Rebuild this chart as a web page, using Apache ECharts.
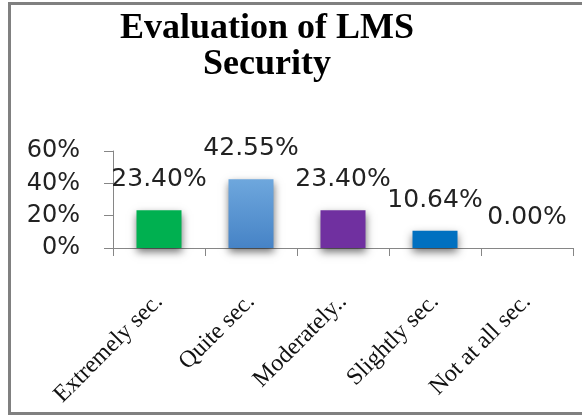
<!DOCTYPE html>
<html>
<head>
<meta charset="utf-8">
<script src="https://cdn.jsdelivr.net/npm/echarts@6/dist/echarts.min.js"></script>
<style>
html,body{margin:0;padding:0;background:#fff;overflow:hidden;}
#frame{position:absolute;left:8px;top:2px;width:700px;height:413px;border-top:3px solid #808080;border-left:3px solid #808080;border-bottom:3px solid #808080;box-sizing:border-box;}
#c{position:absolute;left:0;top:0;width:582px;height:417px;}
</style>
</head>
<body>
<div id="frame"></div>
<div id="c"></div>
<script>
var titleText = 'Evaluation of LMS\nSecurity';
var categories = ['Extremely sec.', 'Quite sec.', 'Moderately..', 'Slightly sec.', 'Not at all sec.'];
var values = [0.2340, 0.4255, 0.2340, 0.1064, 0.0000];
var labels = ['23.40%', '42.55%', '23.40%', '10.64%', '0.00%'];
var yTicks = [0, 0.2, 0.4, 0.6];
var barColors = [
  '#00B050',
  {type:'linear', x:0, y:0, x2:0, y2:1, colorStops:[{offset:0,color:'#6EA7DD'},{offset:1,color:'#4683C6'}]},
  '#7030A0',
  '#0070C0',
  '#4F81BD'
];

var chart = echarts.init(document.getElementById('c'), null, {renderer:'canvas'});
chart.setOption({
  backgroundColor:'transparent',
  animation:false,
  title:{
    text:titleText,
    left:262,
    top:6,
    textAlign:'center',
    textStyle:{fontFamily:'Liberation Serif', fontWeight:'bold', fontSize:36, lineHeight:36, color:'#000'}
  },
  grid:{left:113, right:9, top:151, bottom:169, containLabel:false},
  xAxis:{
    type:'category',
    data:categories,
    axisLine:{lineStyle:{color:'#868686', width:1}},
    axisTick:{show:true, length:8, alignWithLabel:false, lineStyle:{color:'#868686'}},
    axisLabel:{rotate:45, interval:0, margin:50, fontFamily:'Liberation Serif', fontSize:24, color:'#111'}
  },
  yAxis:{
    type:'value',
    min:yTicks[0], max:yTicks[yTicks.length-1], interval:0.2,
    splitLine:{show:false},
    axisLine:{show:true, lineStyle:{color:'#868686', width:1}},
    axisTick:{show:true, length:9, lineStyle:{color:'#868686'}},
    axisLabel:{margin:33, fontFamily:'DejaVu Sans', fontSize:24, color:'#222',
      formatter:function(v){return Math.round(v*100)+'%';}}
  },
  series:[{
    type:'bar',
    barWidth:45,
    data:values.map(function(v,i){
      return {value:v, itemStyle:{color:barColors[i]}};
    }),
    itemStyle:{shadowColor:'rgba(0,0,0,0.55)', shadowBlur:8, shadowOffsetY:4},
    label:{show:true, position:'top', distance:18, fontFamily:'DejaVu Sans', fontSize:25, color:'#222',
      formatter:function(p){return labels[p.dataIndex];}}
  }]
});
</script>
</body>
</html>
